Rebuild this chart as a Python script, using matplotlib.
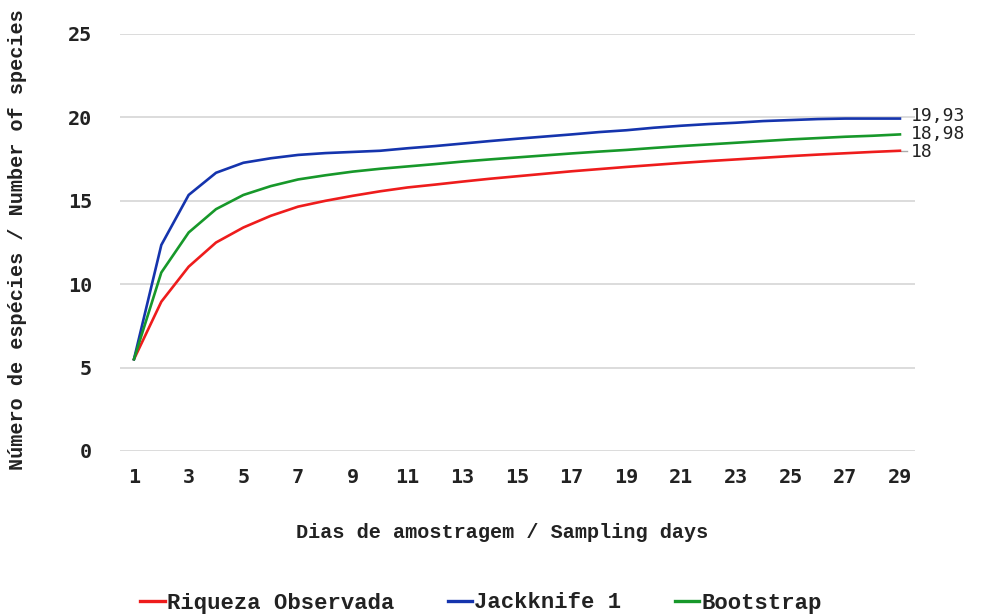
import matplotlib
matplotlib.use("Agg")
import matplotlib.pyplot as plt

days = list(range(1, 30))
xtick_days = list(range(1, 30, 2))
yticks = [0, 5, 10, 15, 20, 25]

riqueza = [5.5, 8.95, 11.05, 12.5, 13.4, 14.1, 14.65, 15.0, 15.3, 15.57,
           15.8, 15.97, 16.15, 16.32, 16.47, 16.62, 16.77, 16.9, 17.03, 17.15,
           17.27, 17.38, 17.48, 17.58, 17.68, 17.77, 17.85, 17.93, 18.0]
jackknife = [5.5, 12.35, 15.35, 16.68, 17.28, 17.55, 17.75, 17.86, 17.93, 18.0,
             18.15, 18.28, 18.43, 18.58, 18.72, 18.85, 18.98, 19.12, 19.23, 19.38,
             19.5, 19.6, 19.68, 19.78, 19.84, 19.9, 19.93, 19.93, 19.93]
bootstrap = [5.5, 10.7, 13.1, 14.5, 15.35, 15.88, 16.28, 16.53, 16.75, 16.92,
             17.06, 17.2, 17.35, 17.48, 17.6, 17.72, 17.84, 17.95, 18.05, 18.17,
             18.28, 18.38, 18.48, 18.58, 18.68, 18.76, 18.84, 18.9, 18.98]

end_labels = ["18", "19,93", "18,98"]
series_names = ["Riqueza Observada", "Jackknife 1", "Bootstrap"]
colors = ["#ee1c1c", "#1534ad", "#17982a"]

fig = plt.figure(figsize=(9.81, 6.15), dpi=100)
ax = fig.add_axes([120 / 981, 1 - 451 / 615, 795 / 981, 417 / 615])

lines = []
for vals, name, col in zip([riqueza, jackknife, bootstrap], series_names, colors):
    ln, = ax.plot(days, vals, color=col, lw=1.9, label=name, clip_on=False, zorder=3)
    lines.append(ln)

# value labels at the end of each curve, spread a little so they don't collide
nudges = [-1.0, 1.5, 0.0]
for vals, txt, dy in zip([riqueza, jackknife, bootstrap], end_labels, nudges):
    ax.annotate(txt, xy=(days[-1], vals[-1]), xytext=(8, dy), textcoords="offset points",
                va="center", ha="left", fontsize=13, family="DejaVu Sans Mono",
                color="#222222", annotation_clip=False)
ax.plot([days[-1] + 0.05, days[-1] + 0.25], [riqueza[-1], riqueza[-1]],
        color="#aaaaaa", lw=1, clip_on=False)

ax.set_xlim(0.49, 29.55)
ax.set_ylim(0, 25)
ax.set_xticks(xtick_days)
ax.set_yticks(yticks)
ax.grid(axis="y", color="#d9d9d9", lw=1.3)
ax.set_axisbelow(True)
for s in ax.spines.values():
    s.set_visible(False)
ax.tick_params(length=0, labelsize=14.5, colors="#222222")
ax.tick_params(axis="x", pad=12)
ax.tick_params(axis="y", pad=20)
for lab in ax.get_xticklabels() + ax.get_yticklabels():
    lab.set_family("DejaVu Sans Mono")
    lab.set_fontweight("bold")

fig.text(502 / 981, 1 - 533 / 615, "Dias de amostragem / Sampling days",
         ha="center", va="center", fontsize=14.5, fontweight="bold",
         family="Liberation Mono", color="#222222")
fig.text(18 / 981, 1 - 240 / 615, "Número de espécies / Number of species",
         ha="center", va="center", rotation=90, fontsize=14.5, fontweight="bold",
         family="Liberation Mono", color="#222222")

leg = fig.legend(handles=lines, loc="center", bbox_to_anchor=(481 / 981, 1 - 603 / 615),
                 ncol=3, frameon=False, handlelength=1.1, handletextpad=0.1,
                 columnspacing=2.4,
                 prop={"family": "Liberation Mono", "size": 16, "weight": "bold"})
for t in leg.get_texts():
    t.set_color("#222222")
for h in leg.legend_handles:
    h.set_linewidth(2.4)

fig.savefig("out.png", dpi=100)
